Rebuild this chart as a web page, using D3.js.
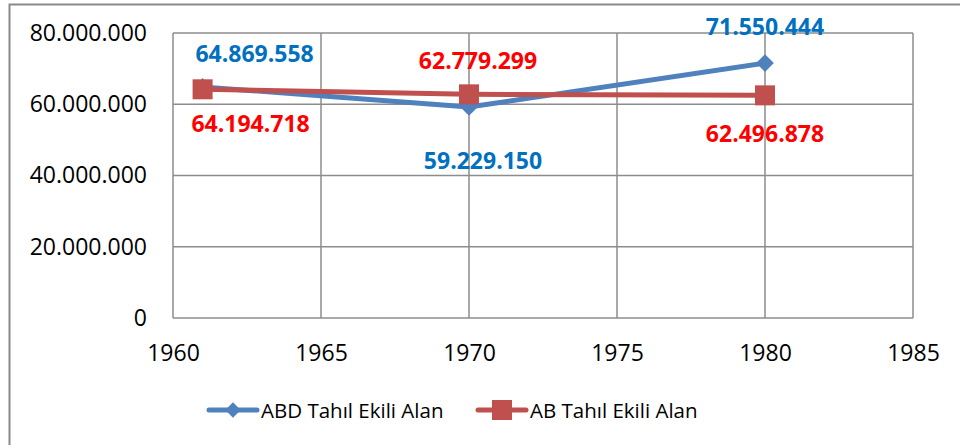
<!DOCTYPE html>
<html>
<head>
<meta charset="utf-8">
<script src="https://cdn.jsdelivr.net/npm/d3@7"></script>
<style>
  body { margin: 0; background: #fff; }
  svg { display: block; font-family: "Open Sans", sans-serif; }
</style>
</head>
<body>
<div id="chart"></div>
<script>
// chart values
var years = [1961, 1970, 1980];
var abdValues = [64869558, 59229150, 71550444];
var abValues = [64194718, 62779299, 62496878];
var seriesNames = ["ABD Tahıl Ekili Alan", "AB Tahıl Ekili Alan"];
var xTicks = [1960, 1965, 1970, 1975, 1980, 1985];
var yTicks = [0, 20000000, 40000000, 60000000, 80000000];

var width = 960,
    height = 445,
    plotLeft = 173, plotRight = 913, plotTop = 33, plotBottom = 318;

var blue = "#4f81bd", red = "#c0504d";

var svg = d3.select("#chart").append("svg")
    .attr("width", width)
    .attr("height", height);

// outer chart border (runs off the right / bottom edge)
svg.append("rect")
    .attr("x", 9.5).attr("y", 4.5)
    .attr("width", 980).attr("height", 460)
    .attr("fill", "none")
    .attr("stroke", "#8a8a8a")
    .attr("stroke-width", 2);

var x = d3.scaleLinear().domain([1960, 1985]).range([plotLeft, plotRight]);
var y = d3.scaleLinear().domain([0, 80000000]).range([plotBottom, plotTop]);

var fmt = function(v) {
  return String(v).replace(/\B(?=(\d{3})+(?!\d))/g, ".");
};

// grid lines
svg.append("g").selectAll("line")
  .data(yTicks)
  .enter().append("line")
    .attr("x1", plotLeft).attr("x2", plotRight)
    .attr("y1", d => y(d)).attr("y2", d => y(d))
    .attr("stroke", "#8c8c8c").attr("stroke-width", 1.5);

svg.append("g").selectAll("line")
  .data(xTicks)
  .enter().append("line")
    .attr("x1", d => x(d)).attr("x2", d => x(d))
    .attr("y1", plotTop).attr("y2", plotBottom)
    .attr("stroke", "#8c8c8c").attr("stroke-width", 1.5);

// axes (labels only, lines come from grid)
var yAxis = svg.append("g")
    .attr("transform", "translate(" + plotLeft + ",0)")
    .call(d3.axisLeft(y).tickValues(yTicks).tickSize(0).tickPadding(26).tickFormat(fmt));
var xAxis = svg.append("g")
    .attr("transform", "translate(0," + plotBottom + ")")
    .call(d3.axisBottom(x).tickValues(xTicks).tickSize(0).tickPadding(27).tickFormat(d3.format("d")));

[yAxis, xAxis].forEach(function(a) {
  a.select(".domain").remove();
  a.selectAll("text")
    .attr("font-family", "Open Sans, sans-serif")
    .attr("font-size", 23)
    .attr("fill", "#000");
});

var line = d3.line()
    .x((d, i) => x(years[i]))
    .y(d => y(d));

// ABD series
svg.append("path")
    .datum(abdValues)
    .attr("d", line)
    .attr("fill", "none")
    .attr("stroke", blue)
    .attr("stroke-width", 5)
    .attr("stroke-linejoin", "round");

svg.append("g").selectAll("path")
  .data(abdValues)
  .enter().append("path")
    .attr("d", d3.symbol().type(d3.symbolDiamond2).size(200))
    .attr("transform", (d, i) => "translate(" + x(years[i]) + "," + y(d) + ")")
    .attr("fill", blue);

// AB series
svg.append("path")
    .datum(abValues)
    .attr("d", line)
    .attr("fill", "none")
    .attr("stroke", red)
    .attr("stroke-width", 5)
    .attr("stroke-linejoin", "round");

svg.append("g").selectAll("rect")
  .data(abValues)
  .enter().append("rect")
    .attr("x", (d, i) => x(years[i]) - 10)
    .attr("y", d => y(d) - 10)
    .attr("width", 20).attr("height", 20)
    .attr("fill", red);

// data labels: offset from each point
var abdLabelDx = [52, 14, 0], abdLabelDy = [-25, 62, -28];
var abLabelDx = [48, 9, 0], abLabelDy = [43, -25, 47];

svg.append("g").selectAll("text")
  .data(abdValues)
  .enter().append("text")
    .attr("x", (d, i) => x(years[i]) + abdLabelDx[i])
    .attr("y", (d, i) => y(d) + abdLabelDy[i])
    .attr("text-anchor", "middle")
    .attr("font-size", 23)
    .attr("font-weight", "bold")
    .attr("fill", "#0070c0")
    .text(fmt);

svg.append("g").selectAll("text")
  .data(abValues)
  .enter().append("text")
    .attr("x", (d, i) => x(years[i]) + abLabelDx[i])
    .attr("y", (d, i) => y(d) + abLabelDy[i])
    .attr("text-anchor", "middle")
    .attr("font-size", 23)
    .attr("font-weight", "bold")
    .attr("fill", "#ff0000")
    .text(fmt);

// legend
var legend = svg.append("g").attr("transform", "translate(0,410)");
var legendX = [209, 478];
var colors = [blue, red];

seriesNames.forEach(function(name, i) {
  var g = legend.append("g").attr("transform", "translate(" + legendX[i] + ",0)");
  g.append("line")
    .attr("x1", 0).attr("x2", 48)
    .attr("y1", 0).attr("y2", 0)
    .attr("stroke", colors[i])
    .attr("stroke-width", 5)
    .attr("stroke-linecap", "round");
  if (i === 0) {
    g.append("path")
      .attr("d", d3.symbol().type(d3.symbolDiamond2).size(150))
      .attr("transform", "translate(24,0)")
      .attr("fill", colors[i]);
  } else {
    g.append("rect")
      .attr("x", 14).attr("y", -10)
      .attr("width", 20).attr("height", 20)
      .attr("fill", colors[i]);
  }
  g.append("text")
    .attr("x", 52)
    .attr("y", 8)
    .attr("font-size", 20.5)
    .attr("fill", "#000")
    .text(name);
});
</script>
</body>
</html>
